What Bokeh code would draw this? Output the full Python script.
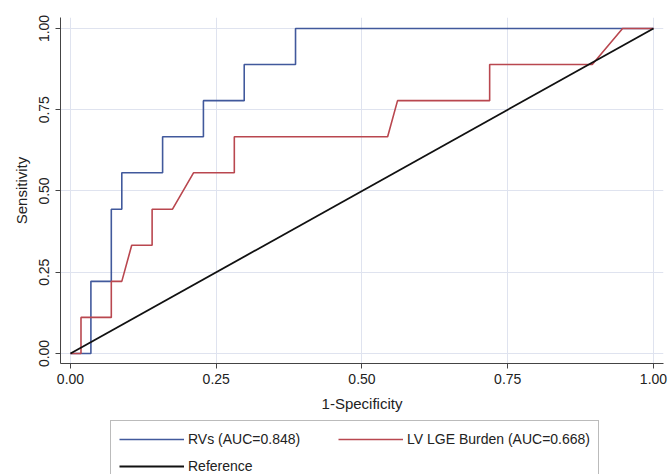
from bokeh.plotting import figure
from bokeh.layouts import column
from bokeh.models import Range1d, FixedTicker, NumeralTickFormatter, Legend, LegendItem
from bokeh.embed import file_html
from bokeh.resources import INLINE

# ROC data (1-specificity, sensitivity)
rvs_fpr = [0.0, 0.035, 0.035, 0.070, 0.070, 0.088, 0.088, 0.158, 0.158, 0.228, 0.228, 0.298, 0.298, 0.386, 0.386, 1.0]
rvs_tpr = [0.0, 0.0, 0.222, 0.222, 0.444, 0.444, 0.556, 0.556, 0.667, 0.667, 0.778, 0.778, 0.889, 0.889, 1.0, 1.0]

lge_fpr = [0.0, 0.018, 0.018, 0.070, 0.070, 0.088, 0.105, 0.140, 0.140, 0.175, 0.211, 0.281, 0.281, 0.544, 0.561, 0.719, 0.719, 0.895, 0.947, 1.0]
lge_tpr = [0.0, 0.0, 0.111, 0.111, 0.222, 0.222, 0.333, 0.333, 0.444, 0.444, 0.556, 0.556, 0.667, 0.667, 0.778, 0.778, 0.889, 0.889, 1.0, 1.0]

ref_x = [0.0, 1.0]
ref_y = [0.0, 1.0]

ticks = [0.0, 0.25, 0.5, 0.75, 1.0]
labels = ["RVs (AUC=0.848)", "LV LGE Burden (AUC=0.668)", "Reference"]
colors = ["#41599c", "#b9474f", "#111111"]
widths = [1.6, 1.6, 1.8]
series = [(rvs_fpr, rvs_tpr), (lge_fpr, lge_tpr), (ref_x, ref_y)]

FONT = "Liberation Sans"

p = figure(width=670, height=420, output_backend="svg", toolbar_location=None,
           x_range=Range1d(-0.01715, 1.0172), y_range=Range1d(-0.0308, 1.0338),
           min_border_left=60, min_border_right=7, min_border_top=17, min_border_bottom=57,
           frame_align=False)
p.background_fill_color = "white"
p.border_fill_color = "white"
p.outline_line_color = None

for ax in (p.xaxis[0], p.yaxis[0]):
    ax.ticker = FixedTicker(ticks=ticks)
    ax.formatter = NumeralTickFormatter(format="0.00")
    ax.minor_tick_line_color = None
    ax.major_tick_in = 0
    ax.major_tick_out = 5
    ax.axis_line_color = "#444444"
    ax.major_tick_line_color = "#444444"
    ax.major_label_text_font = FONT
    ax.major_label_text_font_size = "14px"
    ax.major_label_text_color = "#222222"
    ax.axis_label_text_font = FONT
    ax.axis_label_text_font_size = "15px"
    ax.axis_label_text_font_style = "normal"
    ax.axis_label_text_color = "#222222"

p.xaxis.axis_label = "1-Specificity"
p.yaxis.axis_label = "Sensitivity"
p.xaxis.major_label_standoff = 5
p.xaxis.axis_label_standoff = 8
p.yaxis.major_label_orientation = "vertical"
p.yaxis.major_label_standoff = 6
p.yaxis.axis_label_standoff = 7

for g in (p.xgrid[0], p.ygrid[0]):
    g.ticker = FixedTicker(ticks=ticks)
    g.grid_line_color = "#dfe3ef"
    g.grid_line_width = 1

for (xs, ys), c, w in zip(series, colors, widths):
    p.line(xs, ys, line_color=c, line_width=w)

# legend strip below the chart (its lines lie outside this strip's ranges, only the legend shows)
lg = figure(width=670, height=54, output_backend="svg", toolbar_location=None,
            x_range=Range1d(10, 11), y_range=Range1d(10, 11),
            x_axis_type=None, y_axis_type=None,
            min_border_left=110, min_border_right=0, min_border_top=0, min_border_bottom=0,
            frame_align=False)
lg.outline_line_color = None
lg.grid.visible = False
lg.background_fill_color = "white"
lg.border_fill_color = "white"
legend_lines = [lg.line(xs, ys, line_color=c, line_width=w) for (xs, ys), c, w in zip(series, colors, widths)]

# column-major fill: col 1 = RVs, Reference ; col 2 = LV LGE Burden
order = [0, 2, 1]
legend = Legend(items=[LegendItem(label=labels[i], renderers=[legend_lines[i]]) for i in order],
                ncols=2, location="top_left", padding=8, spacing=7,
                glyph_width=65, glyph_height=20, label_height=20, label_width=143,
                label_standoff=4, margin=0,
                label_text_font=FONT, label_text_font_size="14px", label_text_color="#222222",
                border_line_color="#777777", border_line_width=1,
                background_fill_color="white", background_fill_alpha=1.0)
lg.add_layout(legend, "center")

layout = column(p, lg, spacing=0)
open("out.html", "w").write(file_html(layout, INLINE))
